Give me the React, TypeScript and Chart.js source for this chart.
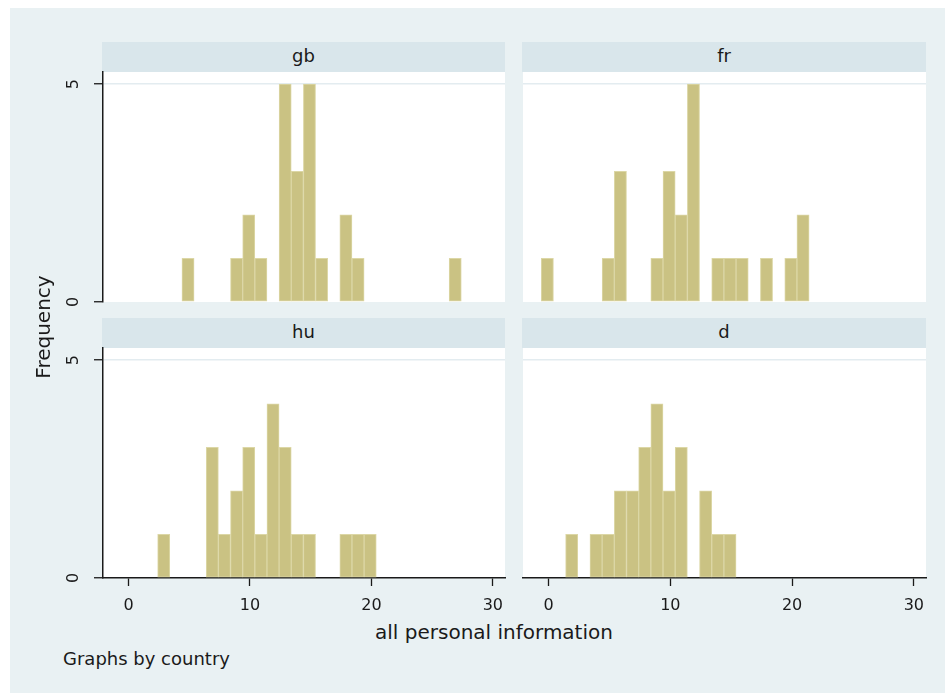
import React, { useEffect, useRef } from "react";
import { Chart, registerables } from "chart.js";

Chart.register(...registerables);

// ---------------- data ----------------
const binCenters = [
  -0.1, 0.9, 1.9, 2.9, 3.9, 4.9, 5.9, 6.9, 7.9, 8.9, 9.9, 10.9, 11.9, 12.9, 13.9,
  14.9, 15.9, 16.9, 17.9, 18.9, 19.9, 20.9, 21.9, 22.9, 23.9, 24.9, 25.9, 26.9, 27.9,
];
const countries = ["gb", "fr", "hu", "d"];
const gbCounts = [0, 0, 0, 0, 0, 1, 0, 0, 0, 1, 2, 1, 0, 5, 3, 5, 1, 0, 2, 1, 0, 0, 0, 0, 0, 0, 0, 1, 0];
const frCounts = [1, 0, 0, 0, 0, 1, 3, 0, 0, 1, 3, 2, 5, 0, 1, 1, 1, 0, 1, 0, 1, 2, 0, 0, 0, 0, 0, 0, 0];
const huCounts = [0, 0, 0, 1, 0, 0, 0, 3, 1, 2, 3, 1, 4, 3, 1, 1, 0, 0, 1, 1, 1, 0, 0, 0, 0, 0, 0, 0, 0];
const dCounts = [0, 0, 1, 0, 1, 1, 2, 2, 3, 4, 2, 3, 0, 2, 1, 1, 0, 0, 0, 0, 0, 0, 0, 0, 0, 0, 0, 0, 0];
const countsByCountry = [gbCounts, frCounts, huCounts, dCounts];
const xTicks = [0, 10, 20, 30];
const yTicks = [0, 5];
const xTitle = "all personal information";
const yTitle = "Frequency";
const note = "Graphs by country";

// ---------------- style / layout ----------------
const FONT = "'DejaVu Sans', sans-serif";
const BG = "#e9f1f3";
const HEADER_BG = "#d9e6eb";
const BAR_FILL = "#cac283";
const BAR_EDGE = "#dcd7a6";
const AXIS = "#1a1a1a";
const TEXT = "#1a1a1a";
const GRID = "#e3ecf0";
const X_MIN = -2.1;
const X_MAX = 31;
const Y_MAX = 5.28;

const PLOT_X = [
  [103, 505],
  [523, 926],
];
const PLOT_Y = [
  [72, 302],
  [348, 578],
];
const HEADER_H = 30;

const whiteArea = {
  id: "whiteArea",
  beforeDraw(chart: any) {
    const { ctx, chartArea } = chart;
    ctx.save();
    ctx.fillStyle = "#ffffff";
    ctx.fillRect(chartArea.left, chartArea.top, chartArea.right - chartArea.left, chartArea.bottom - chartArea.top);
    ctx.restore();
  },
};

function Panel({ idx }: { idx: number }) {
  const ref = useRef<HTMLCanvasElement | null>(null);
  const col = idx % 2;
  const row = Math.floor(idx / 2);
  const showY = col === 0;
  const showX = row === 1;

  const padL = col === 0 ? 0 : 10;
  const padR = col === 0 ? 12 : 14;
  const yAxisW = col === 0 ? 53 : 0;
  const wrapLeft = PLOT_X[col][0] - padL - yAxisW;
  const wrapW = PLOT_X[col][1] + padR - wrapLeft;
  const padT = 10;
  const padB = row === 0 ? 12 : 0;
  const xAxisH = row === 0 ? 0 : 40;
  const wrapTop = PLOT_Y[row][0] - padT;
  const wrapH = PLOT_Y[row][1] + xAxisH + padB - wrapTop;

  useEffect(() => {
    if (!ref.current) return;
    const counts = countsByCountry[idx];
    const chart = new Chart(ref.current, {
      type: "bar",
      data: {
        datasets: [
          {
            data: binCenters.map((x, i) => ({ x, y: counts[i] > 0 ? counts[i] : null })),
            backgroundColor: BAR_FILL,
            borderColor: BAR_EDGE,
            borderWidth: 1,
            borderSkipped: false,
            barPercentage: 1,
            categoryPercentage: 1,
          } as any,
        ],
      },
      options: {
        animation: false,
        responsive: true,
        maintainAspectRatio: false,
        layout: { padding: { left: padL, right: padR, top: padT, bottom: padB } },
        plugins: { legend: { display: false }, tooltip: { enabled: false } },
        scales: {
          x: {
            type: "linear",
            min: X_MIN,
            max: X_MAX,
            offset: false,
            display: showX,
            afterBuildTicks: (s: any) => {
              s.ticks = xTicks.map((v) => ({ value: v }));
            },
            afterFit: (s: any) => {
              s.height = xAxisH;
              s.paddingLeft = 0;
              s.paddingRight = 0;
            },
            grid: {
              drawOnChartArea: false,
              drawTicks: true,
              tickLength: 8,
              tickColor: AXIS,
              tickWidth: 1.3,
              offset: false,
            },
            border: { display: true, color: AXIS, width: 1.5 },
            ticks: {
              padding: 10,
              color: TEXT,
              font: { family: FONT, size: 16 },
              maxRotation: 0,
              autoSkip: false,
            },
          },
          y: {
            type: "linear",
            min: 0,
            max: Y_MAX,
            display: true,
            afterBuildTicks: (s: any) => {
              s.ticks = yTicks.map((v) => ({ value: v }));
            },
            afterFit: (s: any) => {
              s.width = yAxisW;
              s.paddingTop = 0;
              s.paddingBottom = 0;
            },
            grid: {
              color: (c: any) => (c.tick && c.tick.value === 5 ? GRID : "rgba(0,0,0,0)"),
              lineWidth: 1.5,
              drawTicks: showY,
              tickLength: 9,
              tickColor: AXIS,
              tickWidth: 1.3,
            },
            border: { display: showY, color: AXIS, width: 1.5 },
            ticks: {
              display: showY,
              minRotation: 90,
              maxRotation: 90,
              crossAlign: "center",
              padding: 15,
              color: TEXT,
              font: { family: FONT, size: 16 },
            },
          },
        },
      } as any,
      plugins: [whiteArea],
    });
    return () => chart.destroy();
  }, [idx]);

  return (
    <>
      <div
        style={{
          position: "absolute",
          left: PLOT_X[col][0] - 1,
          width: PLOT_X[col][1] - PLOT_X[col][0] + 1,
          top: PLOT_Y[row][0] - HEADER_H,
          height: HEADER_H,
          background: HEADER_BG,
          textAlign: "center",
          lineHeight: "28px",
          fontFamily: FONT,
          fontSize: 18,
          color: TEXT,
        }}
      >
        {countries[idx]}
      </div>
      <div style={{ position: "absolute", left: wrapLeft, top: wrapTop, width: wrapW, height: wrapH }}>
        <canvas ref={ref} />
      </div>
    </>
  );
}

export default function App() {
  return (
    <div
      style={{
        position: "absolute",
        left: 0,
        top: 0,
        width: 945,
        height: 693,
        background: "#ffffff",
        overflow: "hidden",
      }}
    >
      <div style={{ position: "absolute", left: 10, top: 8, width: 935, height: 685, background: BG }} />
      {countries.map((c, i) => (
        <Panel key={c} idx={i} />
      ))}
      <div
        style={{
          position: "absolute",
          left: -57,
          top: 317,
          width: 200,
          height: 20,
          lineHeight: "20px",
          fontSize: 20,
          fontFamily: FONT,
          color: TEXT,
          textAlign: "center",
          transform: "rotate(-90deg)",
        }}
      >
        {yTitle}
      </div>
      <div
        style={{
          position: "absolute",
          left: 294,
          top: 622,
          width: 400,
          height: 20,
          lineHeight: "20px",
          fontSize: 20,
          fontFamily: FONT,
          color: TEXT,
          textAlign: "center",
        }}
      >
        {xTitle}
      </div>
      <div
        style={{
          position: "absolute",
          left: 63,
          top: 650,
          lineHeight: "18px",
          fontSize: 18,
          fontFamily: FONT,
          color: TEXT,
          whiteSpace: "nowrap",
        }}
      >
        {note}
      </div>
    </div>
  );
}
